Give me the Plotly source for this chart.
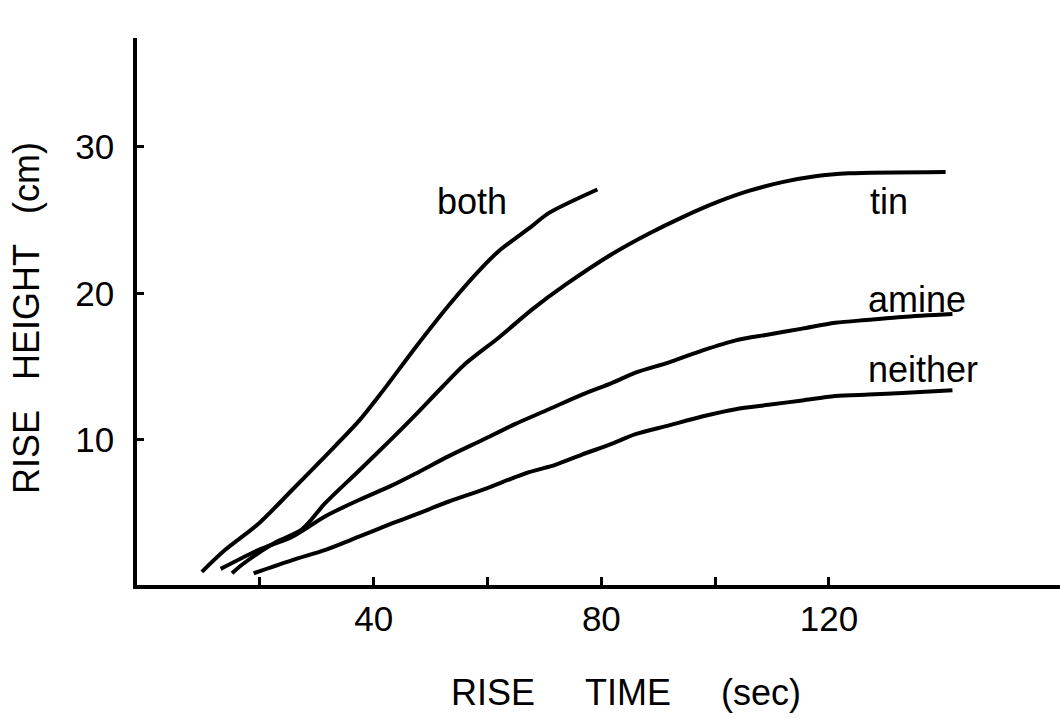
import plotly.graph_objects as go

# ---- data ----
both_x = [9.8, 13.9, 19.8, 25.7, 31.5, 37.4, 41.5, 47.3, 53.2, 59.1, 62.0, 67.8, 70.8, 79.3]
both_y = [1.0, 2.5, 4.3, 6.6, 8.9, 11.3, 13.3, 16.3, 19.2, 21.8, 22.9, 24.6, 25.5, 27.1]

tin_x = [15.1, 16.9, 22.7, 27.4, 31.5, 37.4, 42.7, 47.3, 52.0, 56.1, 62.0, 67.8, 73.7, 81.9,
         88.4, 94.2, 100.1, 105.9, 111.8, 117.6, 123.5, 140.5]
tin_y = [0.9, 1.5, 3.0, 3.9, 5.7, 7.9, 9.9, 11.7, 13.6, 15.2, 17.0, 18.9, 20.6, 22.7,
         24.1, 25.2, 26.2, 27.0, 27.6, 28.0, 28.2, 28.3]

amine_x = [13.1, 19.8, 25.7, 31.5, 37.4, 43.2, 47.3, 53.2, 59.1, 64.9, 70.8, 76.6, 81.9,
           86.0, 91.9, 97.7, 103.6, 109.4, 115.3, 121.1, 127.0, 132.9, 141.7]
amine_y = [1.2, 2.5, 3.4, 4.8, 5.9, 6.9, 7.7, 8.9, 10.0, 11.1, 12.1, 13.1, 13.9,
           14.6, 15.3, 16.1, 16.8, 17.2, 17.6, 18.0, 18.2, 18.4, 18.6]

neither_x = [18.9, 25.7, 31.5, 37.4, 43.2, 47.3, 53.2, 59.1, 67.3, 71.9, 76.6, 81.9,
             86.0, 91.9, 97.7, 103.6, 109.4, 115.3, 121.1, 127.0, 132.9, 141.7]
neither_y = [0.9, 1.8, 2.5, 3.4, 4.3, 4.9, 5.8, 6.6, 7.8, 8.3, 9.0, 9.75,
             10.4, 11.0, 11.6, 12.1, 12.4, 12.7, 13.0, 13.1, 13.2, 13.4]

series_names = ["both", "tin", "amine", "neither"]

x_tick_vals = [20, 40, 60, 80, 100, 120]
x_tick_text = ["", "40", "", "80", "", "120"]
y_tick_vals = [10, 20, 30]
y_tick_text = ["10", "20", "30"]

x_title = "RISE\u00a0\u00a0\u00a0\u00a0\u00a0TIME\u00a0\u00a0\u00a0\u00a0\u00a0(sec)"
y_title = "RISE\u00a0\u00a0\u00a0HEIGHT\u00a0\u00a0\u00a0(cm)"

# label anchor positions (data coords)
label_pos = {"both": (57.3, 26.3), "tin": (130.6, 26.3), "amine": (135.5, 19.6), "neither": (136.6, 14.8)}

FONT = "Liberation Sans, Arial, sans-serif"

fig = go.Figure()
for name, xs, ys in [("both", both_x, both_y), ("tin", tin_x, tin_y),
                     ("amine", amine_x, amine_y), ("neither", neither_x, neither_y)]:
    fig.add_trace(go.Scatter(x=xs, y=ys, mode="lines", name=name,
                             line=dict(color="black", width=4, shape="spline", smoothing=0.8),
                             showlegend=False, hoverinfo="skip"))

for name in series_names:
    lx, ly = label_pos[name]
    fig.add_annotation(x=lx, y=ly, xref="x", yref="y", text=name, showarrow=False,
                       xanchor="center", yanchor="middle",
                       font=dict(family=FONT, size=36, color="black"))

fig.add_annotation(x=(626 - 137) / 923, y=(585 - 692) / 547, xref="paper", yref="paper",
                   text=x_title, showarrow=False, xanchor="center", yanchor="middle",
                   font=dict(family=FONT, size=36, color="black"))
fig.add_annotation(x=(26 - 137) / 923, y=(585 - 318) / 547, xref="paper", yref="paper",
                   text=y_title, showarrow=False, textangle=-90, xanchor="center", yanchor="middle",
                   font=dict(family=FONT, size=36, color="black"))

fig.update_layout(
    width=1060, height=718,
    margin=dict(l=137, r=0, t=38, b=133),
    paper_bgcolor="white", plot_bgcolor="white",
    xaxis=dict(range=[-1.6, 160.6], showgrid=False, zeroline=False,
               showline=True, linecolor="black", linewidth=3.5,
               ticks="inside", ticklen=8, tickwidth=2.5, tickcolor="black",
               tickvals=x_tick_vals, ticktext=x_tick_text, ticklabelstandoff=0,
               tickfont=dict(family=FONT, size=35, color="black")),
    yaxis=dict(range=[0.1, 37.44], showgrid=False, zeroline=False,
               showline=True, linecolor="black", linewidth=3.5,
               ticks="inside", ticklen=7, tickwidth=2.5, tickcolor="black",
               tickvals=y_tick_vals, ticktext=y_tick_text, ticklabelstandoff=12,
               tickfont=dict(family=FONT, size=35, color="black")),
)

fig.write_html("out.html",
               config={"displayModeBar": False},
               post_script="document.body.style.margin='0';"
                           "document.documentElement.style.overflow='hidden';")
